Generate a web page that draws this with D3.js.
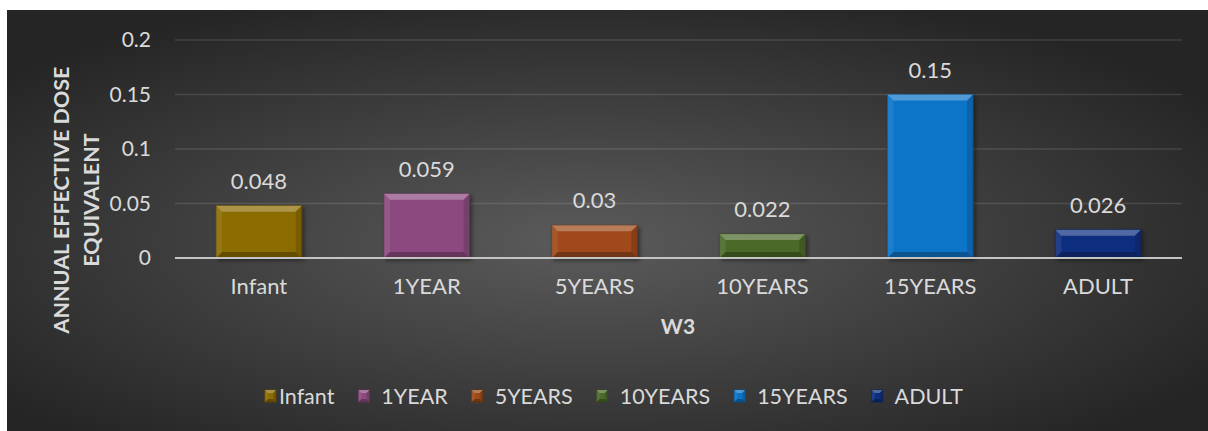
<!DOCTYPE html>
<html>
<head>
<meta charset="utf-8">
<script src="https://cdn.jsdelivr.net/npm/d3@7/dist/d3.min.js"></script>
<style>
  html, body { margin: 0; padding: 0; background: #fff; }
  svg { display: block; font-family: Lato, "Open Sans", sans-serif; }
</style>
</head>
<body>
<svg id="chart" width="1208" height="431"></svg>
<script>
// data
const categories = ['Infant', '1YEAR', '5YEARS', '10YEARS', '15YEARS', 'ADULT'];
const values = [0.048, 0.059, 0.03, 0.022, 0.15, 0.026];
const yTicks = [0, 0.05, 0.1, 0.15, 0.2];
const yTitleLines = ['ANNUAL EFFECTIVE DOSE', 'EQUIVALENT'];
const xTitle = 'W3';
const palette = ['#8c6c05', '#8c4a7f', '#9f4a1b', '#4b6a2b', '#0c74c8', '#0e2f7f'];

(function () {
  const svg = d3.select('#chart');
  const defs = svg.append('defs');

  // chart area background (dark radial gradient)
  const grad = defs.append('radialGradient').attr('id', 'bg')
    .attr('cx', '48%').attr('cy', '55%').attr('r', '62%');
  grad.append('stop').attr('offset', '0%').attr('stop-color', '#5b5b5b');
  grad.append('stop').attr('offset', '100%').attr('stop-color', '#252525');

  const shadow = defs.append('filter').attr('id', 'shadow')
    .attr('x', '-20%').attr('y', '-20%').attr('width', '150%').attr('height', '150%');
  shadow.append('feDropShadow').attr('dx', 2).attr('dy', 2).attr('stdDeviation', 2)
    .attr('flood-color', '#000').attr('flood-opacity', 0.45);

  svg.append('rect').attr('x', 7).attr('y', 10).attr('width', 1201).attr('height', 421)
    .attr('fill', 'url(#bg)');

  const x = d3.scaleBand().domain(categories).range([175, 1182])
    .paddingInner(0.49).paddingOuter(0.245);
  const y = d3.scaleLinear().domain([0, 0.2]).range([258, 40]);
  const color = d3.scaleOrdinal().domain(categories).range(palette);

  // gridlines
  svg.append('g').selectAll('line').data(yTicks.slice(1)).join('line')
    .attr('x1', 175).attr('x2', 1182)
    .attr('y1', d => y(d)).attr('y2', d => y(d))
    .attr('stroke', 'rgba(255,255,255,0.12)').attr('stroke-width', 1.5);

  // y tick labels
  const yAxis = d3.axisLeft(y).tickValues(yTicks).tickSize(0).tickPadding(24)
    .tickFormat(d => String(d));
  const ya = svg.append('g').attr('transform', 'translate(175,0)').call(yAxis);
  ya.select('.domain').remove();
  ya.selectAll('text').attr('fill', '#dadada').attr('font-size', 21)
    .attr('font-family', 'Lato, sans-serif');

  // bevelled box helper
  function bevel(g, bx, by, bw, bh, fill, depth) {
    const d = Math.min(depth, bh / 2, bw / 2);
    g.append('rect').attr('x', bx).attr('y', by).attr('width', bw).attr('height', bh)
      .attr('fill', fill).attr('stroke', d3.color(fill).darker(0.8)).attr('stroke-width', 0.8);
    const pts = [
      [[bx, by], [bx + bw, by], [bx + bw - d, by + d], [bx + d, by + d], 'rgba(255,255,255,0.28)'],
      [[bx, by], [bx + d, by + d], [bx + d, by + bh - d], [bx, by + bh], 'rgba(255,255,255,0.08)'],
      [[bx + bw, by], [bx + bw, by + bh], [bx + bw - d, by + bh - d], [bx + bw - d, by + d], 'rgba(0,0,0,0.15)'],
      [[bx, by + bh], [bx + d, by + bh - d], [bx + bw - d, by + bh - d], [bx + bw, by + bh], 'rgba(0,0,0,0.28)']
    ];
    pts.forEach(p => {
      g.append('polygon').attr('points', p.slice(0, 4).map(q => q.join(',')).join(' '))
        .attr('fill', p[4]);
    });
  }

  // bars
  const bars = svg.append('g');
  categories.forEach((c, i) => {
    const g = bars.append('g').attr('filter', 'url(#shadow)');
    const bx = x(c), bw = x.bandwidth();
    const by = y(values[i]), bh = y(0) - y(values[i]);
    bevel(g, bx, by, bw, bh, color(c), 6);
  });

  // axis line at zero
  svg.append('line').attr('x1', 175).attr('x2', 1182).attr('y1', y(0)).attr('y2', y(0))
    .attr('stroke', '#c4c4c4').attr('stroke-width', 2);

  // value labels
  svg.append('g').selectAll('text').data(values).join('text')
    .attr('x', (d, i) => x(categories[i]) + x.bandwidth() / 2)
    .attr('y', d => y(d) - 17)
    .attr('text-anchor', 'middle').attr('fill', '#dadada').attr('font-size', 22)
    .text(d => String(d));

  // category labels
  const xAxis = d3.axisBottom(x).tickSize(0).tickPadding(20);
  const xa = svg.append('g').attr('transform', `translate(0,${y(0)})`).call(xAxis);
  xa.select('.domain').remove();
  xa.selectAll('text').attr('fill', '#dadada').attr('font-size', 22)
    .attr('font-family', 'Lato, sans-serif');

  // axis titles
  svg.append('text').attr('x', 678).attr('y', 334).attr('text-anchor', 'middle')
    .attr('fill', '#dadada').attr('font-size', 21).attr('font-weight', 'bold').text(xTitle);

  svg.append('g').selectAll('text').data(yTitleLines).join('text')
    .attr('transform', (d, i) => `translate(${69 + i * 30},200) rotate(-90)`)
    .attr('text-anchor', 'middle').attr('fill', '#dadada')
    .attr('font-size', 21.5).attr('font-weight', 'bold').text(d => d);

  // legend
  const legend = svg.append('g');
  let lx = 0;
  categories.forEach((c, i) => {
    const item = legend.append('g');
    bevel(item.append('g'), lx, -6, 11, 12, color(c), 3);
    const gap = i === 0 ? 3 : 12;
    const t = item.append('text').attr('x', lx + 11 + gap).attr('y', 8)
      .attr('fill', '#dadada').attr('font-size', 21.5).text(c);
    lx += 11 + gap + t.node().getComputedTextLength() + 24;
  });
  const total = lx - 24;
  legend.attr('transform', `translate(${614 - total / 2},396)`);
})();
</script>
</body>
</html>
